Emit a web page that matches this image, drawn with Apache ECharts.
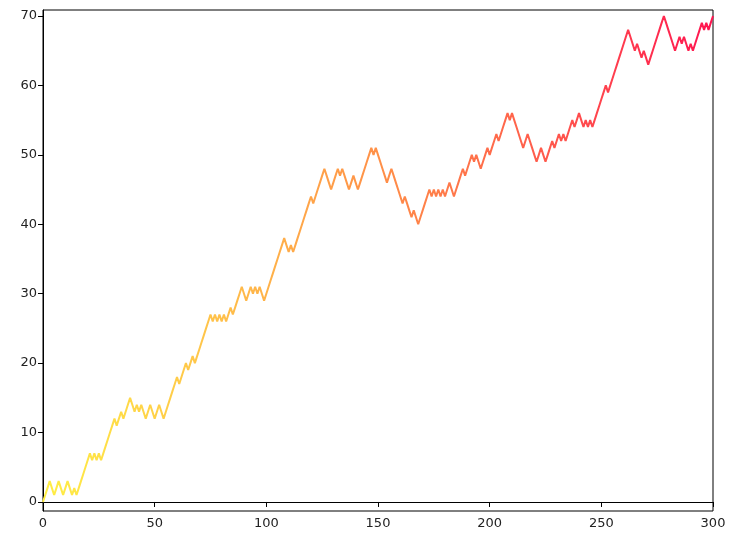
<!DOCTYPE html>
<html>
<head>
<meta charset="utf-8">
<script src="https://cdn.jsdelivr.net/npm/echarts@6/dist/echarts.min.js"></script>
<style>
  html, body { margin: 0; padding: 0; background: #fff; }
  #chart { width: 730px; height: 539px; }
</style>
</head>
<body>
<div id="chart"></div>
<script>
// random walk (step 0..300)
const walk = [
  0, 1, 2, 3, 2, 1, 2, 3, 2, 1, 2, 3, 2, 1, 2, 1, 2, 3, 4, 5,
  6, 7, 6, 7, 6, 7, 6, 7, 8, 9, 10, 11, 12, 11, 12, 13, 12, 13, 14, 15,
  14, 13, 14, 13, 14, 13, 12, 13, 14, 13, 12, 13, 14, 13, 12, 13, 14, 15, 16, 17,
  18, 17, 18, 19, 20, 19, 20, 21, 20, 21, 22, 23, 24, 25, 26, 27, 26, 27, 26, 27,
  26, 27, 26, 27, 28, 27, 28, 29, 30, 31, 30, 29, 30, 31, 30, 31, 30, 31, 30, 29,
  30, 31, 32, 33, 34, 35, 36, 37, 38, 37, 36, 37, 36, 37, 38, 39, 40, 41, 42, 43,
  44, 43, 44, 45, 46, 47, 48, 47, 46, 45, 46, 47, 48, 47, 48, 47, 46, 45, 46, 47,
  46, 45, 46, 47, 48, 49, 50, 51, 50, 51, 50, 49, 48, 47, 46, 47, 48, 47, 46, 45,
  44, 43, 44, 43, 42, 41, 42, 41, 40, 41, 42, 43, 44, 45, 44, 45, 44, 45, 44, 45,
  44, 45, 46, 45, 44, 45, 46, 47, 48, 47, 48, 49, 50, 49, 50, 49, 48, 49, 50, 51,
  50, 51, 52, 53, 52, 53, 54, 55, 56, 55, 56, 55, 54, 53, 52, 51, 52, 53, 52, 51,
  50, 49, 50, 51, 50, 49, 50, 51, 52, 51, 52, 53, 52, 53, 52, 53, 54, 55, 54, 55,
  56, 55, 54, 55, 54, 55, 54, 55, 56, 57, 58, 59, 60, 59, 60, 61, 62, 63, 64, 65,
  66, 67, 68, 67, 66, 65, 66, 65, 64, 65, 64, 63, 64, 65, 66, 67, 68, 69, 70, 69,
  68, 67, 66, 65, 66, 67, 66, 67, 66, 65, 66, 65, 66, 67, 68, 69, 68, 69, 68, 69,
  70
];
const xTicks = [0, 50, 100, 150, 200, 250, 300];
const yTicks = [0, 10, 20, 30, 40, 50, 60, 70];
const lineColors = ['#ffef45', '#ffc34a', '#ff9048', '#ff5a4c', '#ff1550'];

const chart = echarts.init(document.getElementById('chart'));
const axisText = { color: '#222', fontSize: 13, fontFamily: 'DejaVu Sans' };

chart.setOption({
  animation: false,
  backgroundColor: '#fff',
  grid: {
    left: 43, right: 17, top: 10, bottom: 28,
    show: true, borderColor: '#000', borderWidth: 1, backgroundColor: 'transparent'
  },
  visualMap: {
    show: false,
    type: 'continuous',
    dimension: 0,
    min: 0,
    max: 300,
    inRange: { color: lineColors }
  },
  xAxis: {
    type: 'value',
    min: 0,
    max: 300,
    axisLine: { show: true, lineStyle: { color: '#000' } },
    axisTick: { show: true, inside: false, length: 5, customValues: xTicks, lineStyle: { color: '#000' } },
    axisLabel: Object.assign({ customValues: xTicks, margin: 6 }, axisText),
    splitLine: { show: false }
  },
  yAxis: {
    type: 'value',
    min: -1.3,
    max: 70.86,
    axisLine: { show: true, lineStyle: { color: '#000' } },
    axisTick: { show: true, inside: false, length: 5, customValues: yTicks, lineStyle: { color: '#000' } },
    axisLabel: Object.assign({ customValues: yTicks, margin: 6 }, axisText),
    splitLine: { show: false }
  },
  series: [{
    type: 'line',
    data: walk.map((v, i) => [i, v]),
    symbol: 'none',
    lineStyle: { width: 2 }
  }]
});
</script>
</body>
</html>
